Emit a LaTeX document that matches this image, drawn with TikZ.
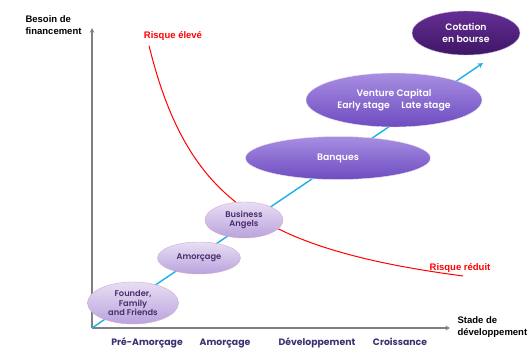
\documentclass[tikz,border=0pt]{standalone}
\usepackage{fontspec}
\setmainfont{Liberation Sans}
\newfontfamily\gothic{Poppins}[UprightFont={* SemiBold}, BoldFont={* Bold}]
\usetikzlibrary{shapes.geometric}
\definecolor{lavhaut}{HTML}{E8DEF4}
\definecolor{lavbas}{HTML}{B9A3DD}
\definecolor{bordrose}{HTML}{D6A8CC}
\definecolor{moyhaut}{HTML}{A88EE2}
\definecolor{moybas}{HTML}{6E4CC0}
\definecolor{foncehaut}{HTML}{652E94}
\definecolor{foncebas}{HTML}{3E1666}
\definecolor{textemauve}{HTML}{4B2D6B}
\definecolor{etapebleu}{HTML}{3D2F6E}
\definecolor{bleuligne}{HTML}{1AB0E8}
\tikzset{
	bulle/.style={
		shape = ellipse,
		inner sep = 0pt,
		align = center,
		font = \gothic\fontsize{8.3}{9.5}\selectfont
	},
	pale/.style={
		bulle,
		draw = bordrose,
		top color = lavhaut,
		bottom color = lavbas,
		text = textemauve
	},
	moyen/.style={
		bulle,
		draw = lavhaut,
		top color = moyhaut,
		bottom color = moybas,
		text = white
	},
	fonce/.style={
		bulle,
		draw = lavbas,
		top color = foncehaut,
		bottom color = foncebas,
		text = white
	},
	axe/.style={
		draw = gray,
		line width = 1.1pt
	},
	etape/.style={
		font = \gothic\bfseries\fontsize{9.3}{10}\selectfont,
		text = etapebleu,
		anchor = base
	},
	risque/.style={
		font = \bfseries\fontsize{9.5}{11}\selectfont,
		text = red
	},
}
\tikzset{>=stealth}

\begin{document}
\begin{tikzpicture}[x=1pt, y=1pt]
    \useasboundingbox (0,0) rectangle (531,349);
    \coordinate (o) at (92,21);
    \coordinate (haut) at (92,321);
    \coordinate (droite) at (450,21);
    \coordinate (fin) at (483,286);
    \draw[axe,->] (o) -- (haut);
    \draw[axe,->] (o) -- (droite);
    \node[anchor=west, align=left, font=\bfseries\fontsize{9.5}{12.5}\selectfont] (besoin) at (22,324) {Besoin de\\financement};
    \node[anchor=west, align=left, font=\bfseries\fontsize{9.5}{11.5}\selectfont] (stade) at (454,22) {Stade de\\développement};
    \foreach \x/\t [count=\i] in {147/Pré-Amorçage, 225/Amorçage, 317/Développement, 400/Croissance}{
      \node[etape] (e\i) at (\x,4) {\t};
    }
    \draw[bleuligne, line width=1.4pt, ->] (o) -- (fin);
    \draw[red, line width=1pt] plot[domain=149:463, samples=80] (\x, {22.4+193.81/((\x-80)/100)});
    \node[risque] (eleve) at (173,313) {Risque élevé};
    \node[risque] (reduit) at (460,81) {Risque réduit};
    \node[pale, minimum width=91, minimum height=42] (fff) at (133,46) {Founder,\\Family\\and Friends};
    \node[pale, minimum width=83, minimum height=32] (amorcage) at (199,91) {Amorçage};
    \node[pale, minimum width=78, minimum height=36] (angels) at (244,129) {Business\\Angels};
    \node[moyen, minimum width=185, minimum height=43, font=\gothic\fontsize{9.3}{10}\selectfont] (banques) at (338,191) {Banques};
    \node[moyen, minimum width=176, minimum height=54, font=\gothic\fontsize{9.3}{12.5}\selectfont] (vc) at (394,249) {Venture Capital\\Early stage\quad\ Late stage};
    \node[fonce, minimum width=108, minimum height=44, font=\gothic\fontsize{9.3}{12}\selectfont] (bourse) at (466,316) {Cotation\\en bourse};
\end{tikzpicture}
\end{document}
